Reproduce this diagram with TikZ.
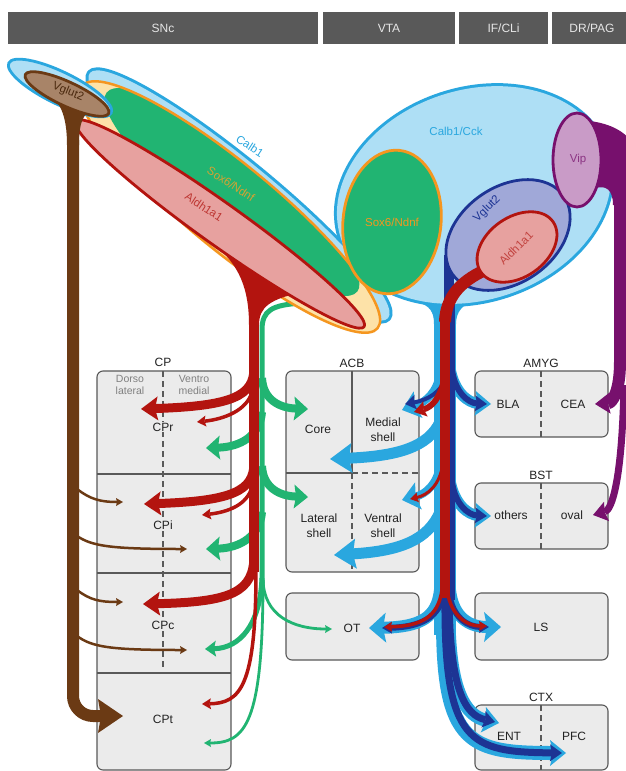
\documentclass[tikz,border=0pt]{standalone}
\usepackage{fontspec}
\setmainfont{Liberation Sans}
\usetikzlibrary{arrows.meta}
\definecolor{hdr}{HTML}{595959}
\definecolor{hdrtext}{HTML}{E6E6E6}
\definecolor{boxfill}{HTML}{EBEBEB}
\definecolor{boxline}{HTML}{595959}
\definecolor{txt}{HTML}{222222}
\definecolor{subtxt}{HTML}{808080}
\definecolor{lblue}{HTML}{AEDFF5}
\definecolor{bblue}{HTML}{2AA7DF}
\definecolor{sgreen}{HTML}{21B472}
\definecolor{sorange}{HTML}{F5961F}
\definecolor{lyellow}{HTML}{FDE2A8}
\definecolor{spink}{HTML}{E7A19F}
\definecolor{dred}{HTML}{B3140F}
\definecolor{sbrown}{HTML}{6B3A14}
\definecolor{lbrown}{HTML}{A88468}
\definecolor{navy}{HTML}{1D3494}
\definecolor{lav}{HTML}{A0A8D8}
\definecolor{purp}{HTML}{77106D}
\definecolor{lilac}{HTML}{C99BC7}
\definecolor{mustard}{HTML}{D6A232}
\begin{document}
\begin{tikzpicture}[x=1pt,y=1pt,line join=round,
  hbar/.style={fill=hdr,text=hdrtext,inner sep=0pt,minimum height=32pt,font=\fontsize{12}{14}\selectfont},
  boxs/.style={draw=boxline,fill=boxfill,line width=1.1pt,rounded corners=6pt},
  div/.style={draw=boxline,line width=1.1pt},
  ddiv/.style={draw=boxline,line width=1.1pt,dash pattern=on 6pt off 4pt},
  lbl/.style={font=\fontsize{12}{15}\selectfont,text=txt,align=center,inner sep=1pt},
  sub/.style={font=\fontsize{10.5}{12.5}\selectfont,text=subtxt,align=center,inner sep=1pt},
  tag/.style={font=\fontsize{11.5}{13}\selectfont,inner sep=1pt},
  ahd/.style n args={3}{-{Stealth[length=#1pt,width=#2pt,inset=#3pt,line width=0pt]}},
]
\useasboundingbox (0,0) rectangle (626,-771);
\fill[white] (0,0) rectangle (626,-771);

% ---------- header bars
\node[hbar,minimum width=310pt] (hsnc) at (163,-28) {SNc};
\node[hbar,minimum width=132pt] (hvta) at (389,-28) {VTA};
\node[hbar,minimum width=89pt] (hif) at (503.5,-28) {IF/CLi};
\node[hbar,minimum width=80pt] (hdrpag) at (592,-28) {DR/PAG};

% ---------- target boxes
\draw[boxs] (97,-371) rectangle (231,-770);
\draw[div] (97,-474) -- (231,-474);
\draw[div] (97,-573) -- (231,-573);
\draw[div] (97,-673) -- (231,-673);
\draw[ddiv] (163,-371) -- (163,-670);
\draw[boxs] (286,-371) rectangle (419,-572);
\draw[div] (352,-371) -- (352,-473) -- (286,-473);
\draw[ddiv] (352,-473) -- (419,-473);
\draw[ddiv] (352,-473) -- (352,-572);
\draw[boxs] (286,-593) rectangle (419,-660);
\draw[boxs] (475,-371) rectangle (608,-437);
\draw[ddiv] (541,-371) -- (541,-437);
\draw[boxs] (475,-483) rectangle (608,-549);
\draw[ddiv] (541,-483) -- (541,-549);
\draw[boxs] (475,-593) rectangle (608,-660);
\draw[boxs] (475,-705) rectangle (608,-770);
\draw[ddiv] (541,-705) -- (541,-770);

% ---------- box labels
\node[lbl] (cp) at (163,-362) {CP};
\node[sub] (dl) at (130,-385) {Dorso\\lateral};
\node[sub] (vm) at (194,-385) {Ventro\\medial};
\node[lbl,fill=boxfill] (cpr) at (163,-427) {CPr};
\node[lbl,fill=boxfill] (cpi) at (163,-525) {CPi};
\node[lbl,fill=boxfill] (cpc) at (163,-625) {CPc};
\node[lbl] (cpt) at (163,-719) {CPt};
\node[lbl] (acb) at (352,-363) {ACB};
\node[lbl] (core) at (318,-429) {Core};
\node[lbl] (msh) at (383,-430) {Medial\\shell};
\node[lbl] (lsh) at (319,-526) {Lateral\\shell};
\node[lbl] (vsh) at (383,-526) {Ventral\\shell};
\node[lbl] (ot) at (352,-628) {OT};
\node[lbl] (amyg) at (541,-363) {AMYG};
\node[lbl] (bla) at (508,-404) {BLA};
\node[lbl] (cea) at (573,-404) {CEA};
\node[lbl] (bst) at (541,-475) {BST};
\node[lbl] (oth) at (511,-515) {others};
\node[lbl] (oval) at (572,-515) {oval};
\node[lbl] (ls) at (541,-627) {LS};
\node[lbl] (ctx) at (541,-697) {CTX};
\node[lbl] (ent) at (509,-736) {ENT};
\node[lbl] (pfc) at (574,-736) {PFC};

% ---------- Calb1 (blue) regions
\fill[bblue] (418,-302) .. controls (430,-306) and (434,-312) .. (434,-324) -- (456,-324) .. controls (456,-312) and (462,-305) .. (475,-300) -- cycle;
\draw[bblue,line width=6pt,rotate around={-39.4:(239,-195.5)}] (239,-195.5) ellipse [x radius=193pt,y radius=33pt];
\draw[bblue,line width=6pt,rotate around={18:(474,-195)}] (474,-195) ellipse [x radius=140pt,y radius=105pt];
\fill[lblue,rotate around={-39.4:(239,-195.5)}] (239,-195.5) ellipse [x radius=193pt,y radius=33pt];
\fill[lblue,rotate around={18:(474,-195)}] (474,-195) ellipse [x radius=140pt,y radius=105pt];

% ---------- SNc green (Sox6) projections
\draw[sgreen,line width=5pt] (302,-303) .. controls (272,-305) and (262,-310) .. (262,-330) -- (262,-585);
\draw[sgreen,line width=8pt,ahd={14}{24}{2}] (262,-378) .. controls (263,-400) and (280,-408) .. (308,-409);
\draw[sgreen,line width=8pt,ahd={14}{24}{2}] (262,-466) .. controls (263,-488) and (280,-496) .. (308,-497);
\draw[sgreen,line width=8pt,ahd={14}{24}{2}] (262,-412) .. controls (260,-436) and (240,-447) .. (206,-448);
\draw[sgreen,line width=8pt,ahd={14}{24}{2}] (262,-512) .. controls (260,-536) and (240,-548) .. (206,-549);
\draw[sgreen,line width=5pt,ahd={11}{16}{2}] (262,-578) .. controls (260,-625) and (240,-648) .. (205,-649);
\draw[sgreen,line width=2.8pt,ahd={7}{8}{1}] (263,-580) .. controls (263,-725) and (245,-743) .. (204,-743);
\draw[sgreen,line width=2.8pt,ahd={7}{8}{1}] (263,-580) .. controls (264,-615) and (292,-629) .. (332,-629);

% ---------- SNc Sox6 ellipse
\fill[lyellow,rotate around={-39.4:(230,-207)}] (230,-207) ellipse [x radius=191pt,y radius=43pt];
\begin{scope}
  \clip[rotate around={-39.4:(230,-207)}] (230,-207) ellipse [x radius=191pt,y radius=43pt];
  \fill[sgreen,rotate around={-38.5:(232,-192)}] (232,-192) ellipse [x radius=160pt,y radius=38pt];
\end{scope}
\draw[sorange,line width=2.5pt,rotate around={-39.4:(230,-207)}] (230,-207) ellipse [x radius=191pt,y radius=43pt];

% ---------- left Calb1 with Vglut2
\filldraw[fill=lblue,draw=bblue,line width=2.8pt,rotate around={-26:(60,-88)}] (60,-88) ellipse [x radius=57pt,y radius=16pt];

% ---------- VTA Sox6
\filldraw[fill=sgreen,draw=sorange,line width=2.8pt,rotate around={-6:(392,-222)}] (392,-222) ellipse [x radius=49pt,y radius=72pt];

% ---------- SNc Aldh1a1 (red)
\fill[dred] (212,-243) .. controls (240,-264) and (249,-290) .. (249,-325) -- (259,-325) .. controls (259,-307) and (270,-299) .. (303,-292) -- cycle;
\filldraw[fill=spink,draw=dred,line width=2.8pt,rotate around={-35.5:(220,-224)}] (220,-224) ellipse [x radius=177pt,y radius=21pt];
\draw[dred,line width=10pt] (254,-315) -- (254,-572);
\draw[dred,line width=9pt,ahd={17}{24}{3}] (254,-368) .. controls (254,-396) and (232,-406) .. (141,-409);
\draw[dred,line width=3.5pt,ahd={9}{11}{1.5}] (252,-392) .. controls (247,-410) and (225,-419) .. (197,-422);
\draw[dred,line width=9pt,ahd={17}{24}{3}] (254,-463) .. controls (254,-491) and (232,-501) .. (144,-504);
\draw[dred,line width=3.5pt,ahd={9}{11}{1.5}] (252,-487) .. controls (247,-505) and (228,-512) .. (202,-515);
\draw[dred,line width=9pt,ahd={17}{24}{3}] (254,-555) .. controls (254,-592) and (232,-602) .. (143,-604);
\draw[dred,line width=3.5pt,ahd={9}{11}{1.5}] (256,-570) .. controls (256,-688) and (240,-703) .. (202,-704);

% ---------- SNc Vglut2 (brown)
\fill[sbrown] (44,-90) .. controls (60,-100) and (67,-115) .. (67,-145) -- (79,-145) .. controls (79,-122) and (83,-113) .. (95,-108) -- cycle;
\draw[sbrown,line width=12pt,rounded corners=20pt,ahd={25}{34}{3}] (73,-140) |- (123,-716);
\filldraw[fill=lbrown,draw=sbrown,line width=2.8pt,rotate around={-25:(67,-94)}] (67,-94) ellipse [x radius=46pt,y radius=12pt];
\draw[sbrown,line width=2.5pt,ahd={7}{8}{1}] (77,-489) .. controls (90,-499) and (100,-502) .. (123,-502);
\draw[sbrown,line width=2.5pt,ahd={7}{8}{1}] (77,-536) .. controls (92,-546) and (110,-549) .. (187,-549);
\draw[sbrown,line width=2.5pt,ahd={7}{8}{1}] (77,-590) .. controls (90,-600) and (100,-602) .. (123,-602);
\draw[sbrown,line width=2.5pt,ahd={7}{8}{1}] (77,-636) .. controls (92,-647) and (110,-650) .. (187,-650);

% ---------- VTA Calb1/Cck (light blue) projections
\draw[bblue,line width=22pt] (445,-305) -- (445,-635);
\draw[bblue,line width=8pt,ahd={17}{28}{3}] (440,-374) .. controls (437,-392) and (426,-402) .. (402,-410);
\draw[bblue,line width=11pt,ahd={22}{30}{3}] (440,-422) .. controls (428,-447) and (398,-456) .. (330,-459);
\draw[bblue,line width=8pt,ahd={17}{28}{3}] (440,-466) .. controls (437,-484) and (426,-494) .. (402,-500);
\draw[bblue,line width=11pt,ahd={22}{30}{3}] (440,-512) .. controls (428,-540) and (400,-551) .. (334,-555);
\draw[bblue,line width=11pt,ahd={16}{25}{3}] (450,-368) .. controls (454,-392) and (468,-403) .. (491,-404);
\draw[bblue,line width=11pt,ahd={16}{25}{3}] (450,-480) .. controls (454,-504) and (468,-515) .. (491,-516);
\draw[bblue,line width=12pt,ahd={17}{30}{3}] (440,-590) .. controls (437,-618) and (420,-627) .. (369,-628);
\draw[bblue,line width=12pt,ahd={17}{30}{3}] (450,-590) .. controls (453,-618) and (470,-627) .. (501,-627);
\draw[bblue,line width=13pt,ahd={16}{26}{3}] (449,-620) .. controls (450,-690) and (465,-716) .. (499,-723);
\draw[bblue,line width=14pt,ahd={16}{26}{3}] (443,-620) .. controls (443,-745) and (470,-753) .. (566,-753);

% ---------- VTA Vglut2 (navy)
\draw[navy,line width=10pt] (449,-255) -- (449,-312);
\draw[navy,line width=6pt] (452,-300) -- (452,-600);
\draw[navy,line width=4pt,ahd={11}{15}{2}] (446,-378) .. controls (441,-392) and (428,-400) .. (405,-404);
\draw[navy,line width=6pt,ahd={12}{16}{2}] (452,-370) .. controls (455,-392) and (468,-403) .. (487,-404);
\draw[navy,line width=6pt,ahd={12}{16}{2}] (452,-482) .. controls (455,-504) and (468,-515) .. (487,-516);
\draw[navy,line width=6pt,ahd={10}{12}{2}] (444,-592) .. controls (440,-618) and (420,-627) .. (382,-628);
\draw[navy,line width=6pt,ahd={10}{12}{2}] (449,-592) .. controls (452,-618) and (468,-627) .. (489,-627);
\draw[navy,line width=7pt,ahd={12}{17}{2}] (449,-598) .. controls (450,-690) and (465,-715) .. (495,-722);
\draw[navy,line width=7pt,ahd={12}{17}{2}] (445,-598) .. controls (444,-744) and (470,-752) .. (562,-753);
\filldraw[fill=lav,draw=navy,line width=2.8pt,rotate around={35:(508,-235)}] (508,-235) ellipse [x radius=68pt,y radius=48pt];

% ---------- VTA Aldh1a1 (red)
\draw[dred,line width=12pt] (494,-266) .. controls (470,-276) and (446,-290) .. (445,-322);
\draw[dred,line width=10pt] (444.5,-312) -- (444.5,-598);
\draw[dred,line width=6pt,ahd={12}{16}{2}] (444,-380) .. controls (440,-398) and (432,-407) .. (414,-412);
\draw[dred,line width=3pt,ahd={8}{10}{1}] (443,-463) .. controls (440,-485) and (428,-495) .. (410,-499);
\draw[dred,line width=3.5pt,ahd={8}{10}{1}] (442,-590) .. controls (438,-618) and (420,-626) .. (384,-627);
\draw[dred,line width=3.5pt,ahd={8}{10}{1}] (447,-590) .. controls (451,-617) and (468,-626) .. (487,-626);
\filldraw[fill=spink,draw=dred,line width=2.8pt,rotate around={35:(517,-247)}] (517,-247) ellipse [x radius=44pt,y radius=30pt];

% ---------- DR/PAG Vip (purple)
\fill[purp] (590,-121) .. controls (612,-124) and (624,-132) .. (630,-140) -- (630,-205) -- (613,-205) .. controls (613,-190) and (606,-185) .. (596,-188) -- cycle;
\draw[purp,line width=12pt,ahd={15}{21}{2}] (620,-200) -- (620,-362) .. controls (620,-392) and (612,-403) .. (595,-404);
\draw[purp,line width=7pt,ahd={14}{20}{2}] (624,-385) .. controls (622,-480) and (612,-510) .. (593,-515);
\filldraw[fill=lilac,draw=purp,line width=2.8pt] (577,-160) ellipse [x radius=24pt,y radius=47pt];

% ---------- population tags
\node[tag,text=bblue] (tcc) at (456,-131) {Calb1/Cck};
\node[tag,text=sorange] (tsv) at (392,-222) {Sox6/Ndnf};
\node[tag,text=navy,rotate=45] (tvg) at (487,-209) {Vglut2};
\node[tag,text=dred!80,rotate=45] (tva) at (516,-248) {Aldh1a1};
\node[tag,text=purp!85] (tvip) at (578,-160) {Vip};
\node[tag,text=bblue,rotate=-33] (tc1) at (250,-146) {Calb1};
\node[tag,text=mustard,rotate=-33] (ts1) at (231,-184) {Sox6/Ndnf};
\node[tag,text=dred!85,rotate=-33] (ta1) at (204,-207) {Aldh1a1};
\node[tag,text=sbrown!70!black,rotate=-22] (tvg1) at (68,-92) {Vglut2};
\end{tikzpicture}
\end{document}
